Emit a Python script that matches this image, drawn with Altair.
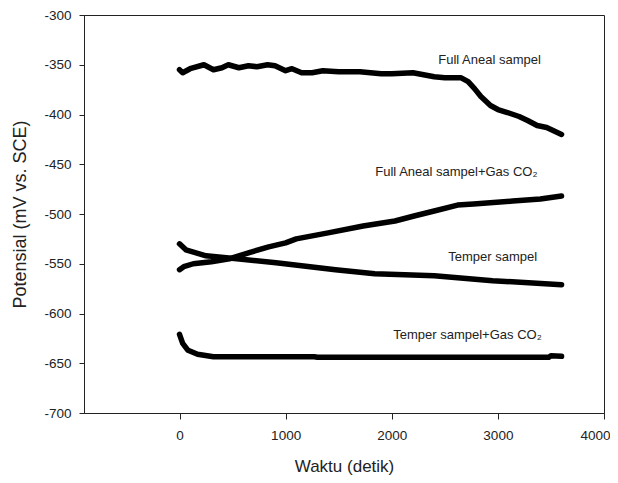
import altair as alt
import pandas as pd

# Series data (time in seconds, potential in mV vs SCE)
fa_t = [0, 30, 100, 230, 320, 400, 460, 560, 650, 730, 830, 900, 1000, 1060, 1150, 1250,
        1350, 1500, 1700, 1900, 2000, 2200, 2400, 2500, 2650, 2720, 2780, 2840, 2930, 3000,
        3090, 3200, 3280, 3370, 3460, 3600]
fa_v = [-355, -358, -354, -350, -355, -353, -350, -353, -351, -352, -350, -351, -356, -354,
        -358, -358, -356, -357, -357, -359, -359, -358, -362, -363, -363, -367, -374, -382,
        -391, -395, -398, -402, -406, -411, -413, -420]

fac_t = [0, 40, 130, 300, 470, 650, 840, 1000, 1100, 1400, 1730, 2030, 2210, 2400, 2620,
         2770, 3140, 3400, 3600]
fac_v = [-556, -553, -550, -548, -545, -539, -533, -529, -525, -519, -512, -507, -502, -497,
         -491, -490, -487, -485, -482]

tp_t = [0, 60, 250, 540, 910, 1470, 1840, 2400, 2950, 3600]
tp_v = [-530, -536, -542, -545, -549, -556, -560, -562, -567, -571]

tpc_t = [0, 30, 80, 170, 320, 1270, 1300, 2500, 3480, 3500, 3600]
tpc_v = [-621, -630, -637, -641, -643.5, -643.5, -644, -644, -644, -642.5, -643]

series_names = ["Full Aneal sampel", "Full Aneal sampel+Gas CO₂",
                "Temper sampel", "Temper sampel+Gas CO₂"]

label_text = series_names
label_x = [2438, 1845, 2532, 2014]
label_y = [-349.5, -461.4, -547.2, -625.4]

x_ticks = [0, 1000, 2000, 3000, 4000]
y_ticks = [-700, -650, -600, -550, -500, -450, -400, -350, -300]

rows = []
for name, ts, vs in zip(series_names, [fa_t, fac_t, tp_t, tpc_t], [fa_v, fac_v, tp_v, tpc_v]):
    for i, (t, v) in enumerate(zip(ts, vs)):
        rows.append({"series": name, "t": t, "v": v, "order": i})
df = pd.DataFrame(rows)
labels = pd.DataFrame({"text": label_text, "x": label_x, "y": label_y})

FONT = "Liberation Sans"
xs = alt.Scale(domain=[-900, 4000], nice=False, zero=False)
ys = alt.Scale(domain=[-700, -300], nice=False, zero=False)

lines = alt.Chart(df).mark_line(color="black", strokeWidth=5.5, strokeCap="round",
                                strokeJoin="round").encode(
    x=alt.X("t:Q", scale=xs, title="Waktu (detik)",
            axis=alt.Axis(values=x_ticks, grid=False, tickSize=6, labelPadding=9,
                          labelFontSize=13.5, titleFontSize=17, titleFontWeight="normal",
                          titleY=58, titleBaseline="alphabetic", labelFlush=True,
                          labelFlushOffset=6, labelExpr="toString(datum.value)")),
    y=alt.Y("v:Q", scale=ys, title="Potensial (mV vs. SCE)",
            axis=alt.Axis(values=y_ticks, grid=False, tickSize=5, labelPadding=8,
                          labelFontSize=13.5, titleFontSize=18, titleFontWeight="normal",
                          titleX=-59, titleBaseline="alphabetic", labelFlush=False,
                          labelExpr="toString(datum.value)")),
    detail="series:N",
    order="order:Q",
)

text = alt.Chart(labels).mark_text(align="left", baseline="alphabetic", fontSize=13,
                                   font=FONT, color="#222").encode(
    x=alt.X("x:Q", scale=xs),
    y=alt.Y("y:Q", scale=ys),
    text="text:N",
)

chart = (lines + text).properties(
    width=520, height=398,
    padding={"left": 76, "top": 7, "right": 6, "bottom": 62},
    autosize=alt.AutoSizeParams(type="none"),
).configure_view(stroke="#222", strokeWidth=1).configure_axis(
    domainColor="#222", tickColor="#222", labelColor="#222", titleColor="#222",
    labelFont=FONT, titleFont=FONT, domainWidth=1, tickWidth=1,
)

chart.save("out.html", embed_options={"renderer": "svg", "actions": False})
